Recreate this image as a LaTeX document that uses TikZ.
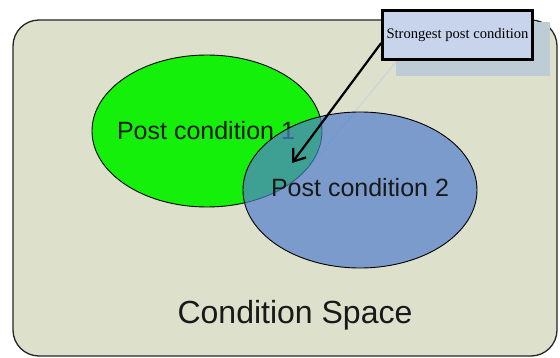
\documentclass[tikz,border=0pt]{standalone}
\usepackage{fontspec}
\setmainfont{Liberation Sans}
\newfontfamily\timesfont{Liberation Serif}
\usetikzlibrary{arrows.meta}
\definecolor{spacebg}{RGB}{221,224,203}
\definecolor{greenfill}{RGB}{20,240,10}
\definecolor{bluefill}{RGB}{80,127,204}
\definecolor{boxfill}{RGB}{200,212,236}
\definecolor{shadowc}{RGB}{190,204,214}
\tikzset{
  space/.style={draw=black!85, line width=1.3pt, fill=spacebg, rounded corners=26pt},
  cond/.style={draw=black, line width=0.9pt},
  lbl/.style={font=\fontsize{25}{28}\selectfont, text=black!90},
  callout/.style={draw=black, line width=2.6pt, fill=boxfill, minimum width=150pt, minimum height=49pt, inner sep=0pt, font=\timesfont\fontsize{14.6}{16}\selectfont},
  pointer/.style={draw=black, line width=2.2pt, -{Straight Barb[length=11pt,width=16pt]}}
}
\begin{document}
\begin{tikzpicture}[x=1pt,y=-1pt]
\useasboundingbox (0,0) rectangle (560,358);
\draw[space] (13,20) rectangle (557,356);
\node[lbl, font=\fontsize{32}{36}\selectfont] (title) at (295,315) {Condition Space};
% shadow of callout
\fill[shadowc] (396,22) rectangle (550,76);
\draw[shadowc!80, line width=1.5pt] (396,62) -- (305,172);
% ellipses
\draw[cond, fill=greenfill] (207,131) ellipse [x radius=115, y radius=76];
\node[lbl] (p1) at (206,131) {Post condition 1};
\draw[cond, fill=bluefill, fill opacity=0.7] (360,190) ellipse [x radius=117, y radius=78];
\node[lbl] (p2) at (360,188) {Post condition 2};
% callout
\node[callout] (sp) at (457.5,35) {Strongest post condition};
\coordinate (tip) at (292,163);
\draw[pointer] (sp.west) ++(0,8) -- (tip);
\end{tikzpicture}
\end{document}
